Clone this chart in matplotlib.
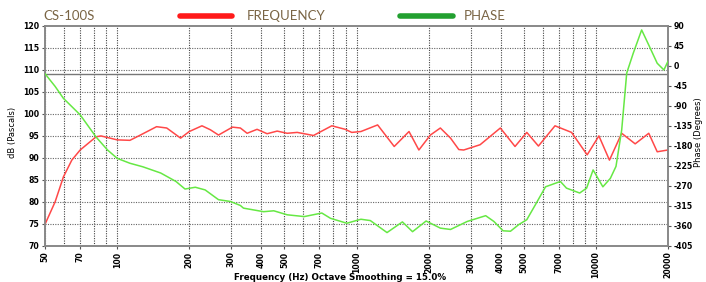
import matplotlib.pyplot as plt
import numpy as np

# frequency response (dB)
freq_hz = [50, 55, 59.6, 64.6, 70, 81.6, 85.5, 100, 113, 125, 146, 161, 184, 200, 226, 245, 265,
           303, 327, 349, 384, 423, 466, 513, 565, 661, 788, 897, 955, 1043, 1225, 1437, 1657,
           1822, 2035, 2240, 2471, 2676, 2805, 3284, 3990, 4595, 5146, 5756, 6751, 7915, 9200,
           10300, 11400, 12825, 14600, 16640, 18050, 20000]
freq_db = [75, 80, 85.7, 89.5, 91.8, 94.8, 95, 94.1, 94, 95.2, 97.1, 96.8, 94.5, 96, 97.3, 96.4, 95.2,
           97, 96.8, 95.6, 96.5, 95.5, 96.1, 95.6, 95.8, 95.1, 97.3, 96.5, 95.8, 96, 97.5, 92.6, 96,
           91.8, 95.2, 96.8, 94.5, 91.9, 91.8, 93, 96.8, 92.6, 95.8, 92.7, 97.3, 95.8, 90.7,
           95, 89.5, 95.6, 93.2, 95.6, 91.4, 91.8]

# phase (degrees)
phase_hz = [50, 55, 59.6, 70, 81.6, 91, 100, 113, 128, 152, 176, 192, 212, 233, 265, 297, 327,
            337, 409, 451, 513, 605, 716, 779, 911, 1043, 1142, 1341, 1555, 1714, 1953, 2240,
            2471, 2900, 3465, 3750, 4096, 4398, 4765, 5146, 5595, 6162, 7108, 7540, 8560, 9150,
            9740, 10700, 11500, 12140, 12825, 13460, 14340, 15540, 16640, 18050, 19250, 20000]
phase_deg = [-18, -46, -73, -110, -160, -189, -208, -219, -227, -241, -260, -277, -273, -279, -301, -305, -314,
             -320, -328, -326, -335, -339, -331, -343, -354, -345, -348, -375, -351, -373, -349, -365,
             -368, -350, -337, -350, -371, -372, -357, -346, -312, -272, -260, -275, -286, -275,
             -234, -272, -253, -226, -144, -16, 29, 81, 47, 6, -9, 10]

db_ticks = list(range(70, 121, 5))
phase_ticks = list(range(-405, 91, 45))
x_ticks = [50, 70, 100, 200, 300, 400, 500, 700, 1000, 2000, 3000, 4000, 5000, 7000, 10000, 20000]
x_grid = [50, 60, 70, 80, 90, 100, 200, 300, 400, 500, 600, 700, 800, 900,
          1000, 2000, 3000, 4000, 5000, 6000, 7000, 8000, 9000, 10000, 20000]

brown = '#7a6545'
tick_font = dict(fontsize=5.6, fontweight='bold', family='DejaVu Sans')

fig = plt.figure(figsize=(7.06, 2.82), dpi=100)
ax = fig.add_axes([0.064, 0.128, 0.882, 0.78])
ax2 = ax.twinx()

ax.set_xscale('log')
ax.set_xlim(50, 20000)
ax.set_ylim(70, 120)
ax2.set_ylim(-405, 90)

# grid
for xg in x_grid:
    ax.axvline(xg, color='#444444', lw=0.8, ls=(0, (1, 1.2)), zorder=1)
for yg in db_ticks[1:-1]:
    ax.axhline(yg, color='#666666', lw=0.8, ls=(0, (1, 1.2)), zorder=1)
ax.axhline(109, color='#777777', lw=1.0, zorder=1)

ax.plot(freq_hz, freq_db, color='#ff4848', lw=1.1, zorder=3)
ax2.plot(phase_hz, phase_deg, color='#66e844', lw=1.1, zorder=3)

ax.set_xticks(x_ticks)
ax.set_xticklabels([str(v) for v in x_ticks], rotation=90, **tick_font)
ax.xaxis.set_minor_locator(plt.NullLocator())
ax.set_yticks(db_ticks)
ax.set_yticklabels([str(v) for v in db_ticks], **tick_font)
ax2.set_yticks(phase_ticks)
ax2.set_yticklabels([str(v) for v in phase_ticks], **tick_font)

for a in (ax, ax2):
    a.tick_params(length=2.5, width=0.8, color='#555555', pad=1.5)
    for s in a.spines.values():
        s.set_color('#888888')
        s.set_linewidth(1.2)

fig.text(0.017, 0.53, 'dB (Pascals)', fontsize=6, family='DejaVu Sans',
         rotation=90, ha='center', va='center')
fig.text(0.989, 0.53, 'Phase (Degrees)', fontsize=6, family='DejaVu Sans',
         rotation=90, ha='center', va='center')
fig.text(0.482, 0.016, 'Frequency (Hz) Octave Smoothing = 15.0%', fontsize=6.3,
         fontweight='bold', family='DejaVu Sans', ha='center', va='center')

# header
fig.text(0.062, 0.945, 'CS-100S', fontsize=9.5, color=brown, family='Lato', va='center')
fig.add_artist(plt.Line2D([0.255, 0.328], [0.945, 0.945], color='#ff1a1a', lw=4,
                          solid_capstyle='round'))
fig.text(0.35, 0.945, 'FREQUENCY', fontsize=9.5, color=brown, family='Lato', va='center')
fig.add_artist(plt.Line2D([0.567, 0.641], [0.945, 0.945], color='#22a030', lw=4,
                          solid_capstyle='round'))
fig.text(0.657, 0.945, 'PHASE', fontsize=9.5, color=brown, family='Lato', va='center')

fig.savefig('out.png', dpi=100)
